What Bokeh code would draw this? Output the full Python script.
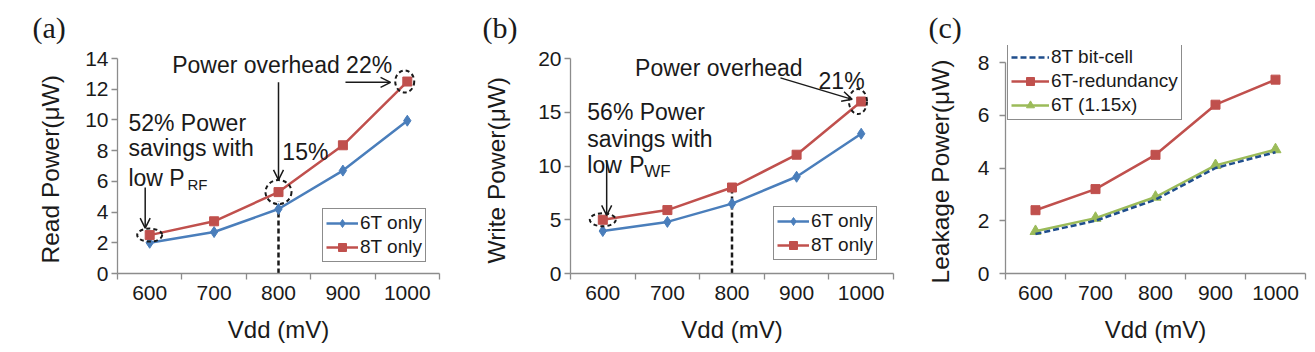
from bokeh.plotting import figure
from bokeh.layouts import row
from bokeh.models import Range1d, FixedTicker, Legend, LegendItem, Label, Arrow, OpenHead, Title
from bokeh.embed import file_html
from bokeh.resources import INLINE

# ---------------- data ----------------
vdd = [600, 700, 800, 900, 1000]
read_6t = [2.0, 2.7, 4.2, 6.7, 9.95]
read_8t = [2.5, 3.4, 5.3, 8.35, 12.5]
write_6t = [3.95, 4.8, 6.5, 9.0, 13.0]
write_8t = [5.0, 5.9, 8.0, 11.05, 16.0]
leak_8t_bitcell = [1.5, 2.0, 2.8, 4.0, 4.6]
leak_6t_redundancy = [2.4, 3.2, 4.5, 6.4, 7.35]
leak_6t_115 = [1.6, 2.1, 2.9, 4.1, 4.7]
read_yticks = [0, 2, 4, 6, 8, 10, 12, 14]
write_yticks = [0, 5, 10, 15, 20]
leak_yticks = [0, 2, 4, 6, 8]

BLUE = "#4a7ebb"
RED = "#c0504d"
GREEN = "#9bbb59"
NAVY = "#1f4e8c"
AXIS = "#8c8c8c"
FONT = "Liberation Sans"
SERIF = "Liberation Serif"

FRAME_TOP = 45
FRAME_BOTTOM = 273


def make_panel(width, left, right, axis_top, yticks, ytitle, ylab_standoff, tag, tag_off,
               ytitle_standoff, ytitle_offset):
    ymax = yticks[-1]
    yrange_top = ymax * (FRAME_BOTTOM - FRAME_TOP) / (FRAME_BOTTOM - axis_top)
    p = figure(width=width, height=352, output_backend="svg", toolbar_location=None,
               x_range=Range1d(vdd[0] - 50, vdd[-1] + 50), y_range=Range1d(0, yrange_top),
               min_border_left=left, min_border_right=right, min_border_top=FRAME_TOP,
               min_border_bottom=352 - FRAME_BOTTOM, title=tag)
    p.title.text_font = SERIF
    p.title.text_font_size = "30px"
    p.title.text_font_style = "normal"
    p.title.text_color = "#1a1a1a"
    p.title.align = "left"
    p.title.offset = tag_off
    p.title.standoff = 4
    p.xgrid.visible = False
    p.ygrid.visible = False
    p.outline_line_color = None
    p.background_fill_color = "white"
    p.border_fill_color = "white"
    xa = p.xaxis[0]
    ya = p.yaxis[0]
    xa.ticker = FixedTicker(ticks=vdd, minor_ticks=[v - 50 for v in vdd] + [vdd[-1] + 50])
    ya.ticker = FixedTicker(ticks=yticks, minor_ticks=[])
    ya.bounds = (0, ymax)
    for ax in (xa, ya):
        ax.axis_line_color = AXIS
        ax.axis_line_width = 1.3
        ax.major_tick_line_color = AXIS
        ax.minor_tick_line_color = AXIS
        ax.major_tick_line_width = 1.3
        ax.minor_tick_line_width = 1.3
        ax.major_label_text_font = FONT
        ax.major_label_text_font_size = "21px"
        ax.major_label_text_color = "#1a1a1a"
        ax.axis_label_text_font = FONT
        ax.axis_label_text_font_size = "24px"
        ax.axis_label_text_font_style = "normal"
        ax.axis_label_text_color = "#1a1a1a"
    xa.major_tick_out = 0
    xa.major_tick_in = 0
    xa.minor_tick_out = 6
    xa.minor_tick_in = 0
    xa.major_label_standoff = 6
    xa.axis_label = "Vdd (mV)"
    xa.axis_label_standoff = 13
    ya.major_tick_out = 6
    ya.major_tick_in = 0
    ya.major_label_standoff = ylab_standoff
    # y-axis title as a left-side title so it can be aligned with the axis line
    yt = Title(text=ytitle, align="left", offset=ytitle_offset, standoff=ytitle_standoff,
               text_font=FONT, text_font_size="24.5px", text_font_style="normal",
               text_color="#1a1a1a", vertical_align="bottom")
    p.add_layout(yt, "left")
    return p


def add_text(p, x, y, text, size="23px", xoff=0, yoff=0):
    p.add_layout(Label(x=x, y=y, text=text, text_font=FONT, text_font_size=size,
                       text_color="#1a1a1a", text_baseline="middle", text_align="left",
                       x_offset=xoff, y_offset=yoff))


def add_arrow(p, x0, y0, x1, y1):
    p.add_layout(Arrow(end=OpenHead(size=10, line_width=1.5, line_color="#1a1a1a"),
                       x_start=x0, y_start=y0, x_end=x1, y_end=y1,
                       line_width=1.5, line_color="#1a1a1a"))


def style_legend(leg, glyph_w):
    leg.label_text_font = FONT
    leg.label_text_font_size = "19px"
    leg.label_text_color = "#1a1a1a"
    leg.border_line_color = "#1a1a1a"
    leg.border_line_width = 1.5
    leg.background_fill_color = "white"
    leg.background_fill_alpha = 1.0
    leg.glyph_width = glyph_w
    leg.glyph_height = 20
    leg.label_height = 20
    leg.label_standoff = 2
    leg.spacing = 2
    leg.padding = 3
    leg.margin = 0


def two_series(p, a6, a8, legend_xy):
    l6 = p.line(vdd, a6, line_color=BLUE, line_width=2.5)
    m6 = p.scatter(vdd, a6, marker="diamond", size=11, fill_color=BLUE, line_color=BLUE)
    l8 = p.line(vdd, a8, line_color=RED, line_width=2.5)
    m8 = p.scatter(vdd, a8, marker="square", size=9, fill_color=RED, line_color=RED)
    leg = Legend(items=[LegendItem(label="6T only", renderers=[l6, m6]),
                        LegendItem(label="8T only", renderers=[l8, m8])],
                 location=legend_xy)
    style_legend(leg, 32)
    p.add_layout(leg)


def dashed_ellipse(p, x, y, w, h):
    p.ellipse(x=[x], y=[y], width=w, height=h, width_units="screen", height_units="screen",
              fill_color=None, line_color="#1a1a1a", line_dash="4 3", line_width=2)


# ---------------- (a) read power ----------------
pa = make_panel(450, 117, 11, 58, read_yticks, "Read Power(μW)", 3, "(a)", -85, 38, 10)
pa.segment(x0=[vdd[2]], y0=[0], x1=[vdd[2]], y1=[read_8t[2] - 0.6], line_color="#1a1a1a",
           line_width=2.5, line_dash="5 3")
two_series(pa, read_6t, read_8t, (205, 11))
dashed_ellipse(pa, vdd[0], read_8t[0], 25, 13)
dashed_ellipse(pa, vdd[2], read_8t[2], 26, 24)
dashed_ellipse(pa, vdd[4] - 4, read_8t[4], 19, 22)
add_text(pa, 635, 13.55, "Power overhead 22%")
add_text(pa, 567, 9.77, "52% Power")
add_text(pa, 567, 8.14, "savings with")
add_text(pa, 567, 6.25, "low P")
add_text(pa, 567, 6.25, "RF", size="15px", xoff=59, yoff=-7)
add_text(pa, 806, 7.9, "15%")
add_arrow(pa, 593, 5.6, 593, 2.95)
add_arrow(pa, vdd[2], 12.45, vdd[2], 6.1)
add_arrow(pa, 904, 12.45, 974, 12.45)

# ---------------- (b) write power ----------------
pb = make_panel(450, 120, 7, 58, write_yticks, "Write Power(μW)", 3, "(b)", -88, 52, 10)
pb.segment(x0=[vdd[2]], y0=[0], x1=[vdd[2]], y1=[write_8t[2]], line_color="#1a1a1a",
           line_width=2.5, line_dash="5 3")
two_series(pb, write_6t, write_8t, (203, 13))
dashed_ellipse(pb, vdd[0], write_8t[0], 26, 13)
dashed_ellipse(pb, vdd[4] - 5, write_8t[4], 18, 25)
add_text(pb, 650, 19.15, "Power overhead")
add_text(pb, 934, 17.95, "21%")
add_text(pb, 576, 14.98, "56% Power")
add_text(pb, 576, 12.47, "savings with")
add_text(pb, 576, 10.05, "low")
add_text(pb, 641, 10.05, "P")
add_text(pb, 641, 10.05, "WF", size="17px", xoff=15, yoff=-6)
add_arrow(pb, 606, 10.5, 606, 5.4)
add_arrow(pb, 875, 18.2, 986, 16.2)

# ---------------- (c) leakage power ----------------
pc = make_panel(415, 105, 10, 62, leak_yticks, "Leakage Power(μW)", 10, "(c)", -77, 42, -10)
r_red = pc.line(vdd, leak_6t_redundancy, line_color=RED, line_width=2.5)
m_red = pc.scatter(vdd, leak_6t_redundancy, marker="square", size=9, fill_color=RED, line_color=RED)
r_grn = pc.line(vdd, leak_6t_115, line_color=GREEN, line_width=2.5)
m_grn = pc.scatter(vdd, leak_6t_115, marker="triangle", size=11, fill_color=GREEN, line_color=GREEN)
r_blu = pc.line(vdd, leak_8t_bitcell, line_color=NAVY, line_width=2.5, line_dash="6 3")
leg_c = Legend(items=[LegendItem(label="8T bit-cell", renderers=[r_blu]),
                      LegendItem(label="6T-redundancy", renderers=[r_red, m_red]),
                      LegendItem(label="6T (1.15x)", renderers=[r_grn, m_grn])],
               location=(2, 153))
style_legend(leg_c, 38)
pc.add_layout(leg_c)

layout = row(pa, pb, pc)
open("out.html", "w").write(file_html(layout, INLINE))
